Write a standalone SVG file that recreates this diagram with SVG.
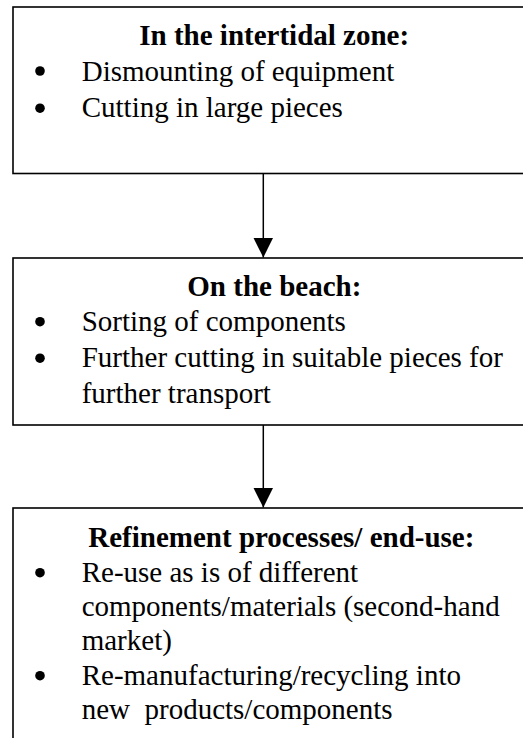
<svg xmlns="http://www.w3.org/2000/svg" width="523" height="738" viewBox="0 0 523 738">
<style>
.box{fill:#fff;stroke:#000;stroke-width:1.6}
.t{font-family:"Liberation Serif","Times New Roman",serif;font-size:29px;fill:#000}
.b{font-weight:bold}
.bul{fill:#000}
.con{stroke:#000;stroke-width:1.5;fill:none}
</style>
<defs>
<marker id="ah" markerWidth="20" markerHeight="20" refX="20" refY="10" orient="auto" markerUnits="userSpaceOnUse" viewBox="0 0 20 20">
<path d="M0,0 L20,10 L0,20 Z" fill="#000"/>
</marker>
</defs>
<rect width="523" height="738" fill="#fff"/>
<g id="node1">
<rect class="box" x="13" y="7" width="540" height="166.5"/>
<text class="t b" x="139.3" y="45">In the intertidal zone:</text>
<circle class="bul" cx="40" cy="71" r="4.8"/>
<text class="t" x="81.7" y="80.5">Dismounting of equipment</text>
<circle class="bul" cx="40" cy="108.2" r="4.8"/>
<text class="t" x="81.7" y="117">Cutting in large pieces</text>
</g>
<g id="node2">
<rect class="box" x="13" y="258" width="540" height="167"/>
<text class="t b" x="187.3" y="296">On the beach:</text>
<circle class="bul" cx="40" cy="321.7" r="4.8"/>
<text class="t" x="81.7" y="330.7">Sorting of components</text>
<circle class="bul" cx="40" cy="358.2" r="4.8"/>
<text class="t" x="81.7" y="367">Further cutting in suitable pieces for</text>
<text class="t" x="81.7" y="403">further transport</text>
</g>
<g id="node3">
<rect class="box" x="13" y="508" width="540" height="260"/>
<text class="t b" x="88.3" y="547">Refinement processes/ end-use:</text>
<circle class="bul" cx="40" cy="572.7" r="4.8"/>
<text class="t" x="81.7" y="581.7">Re-use as is of different</text>
<text class="t" x="81.7" y="616">components/materials (second-hand</text>
<text class="t" x="81.7" y="650.3">market)</text>
<circle class="bul" cx="40" cy="675.7" r="4.8"/>
<text class="t" x="81.7" y="684.7">Re-manufacturing/recycling into</text>
<text class="t" x="81.7" y="719" xml:space="preserve">new  products/components</text>
</g>
<g id="connectors">
<line class="con" x1="263.3" y1="173.5" x2="263.3" y2="257.5" marker-end="url(#ah)"/>
<line class="con" x1="263.3" y1="425" x2="263.3" y2="507.5" marker-end="url(#ah)"/>
</g>
</svg>
